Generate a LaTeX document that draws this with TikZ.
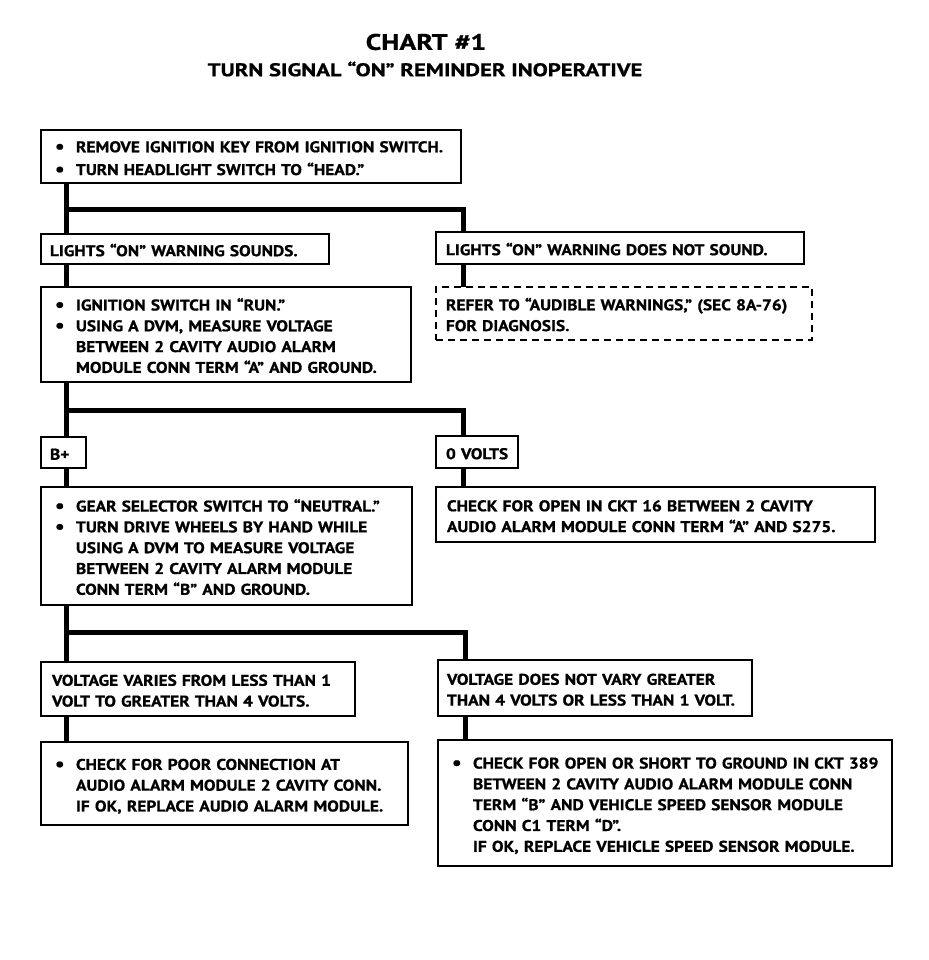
\documentclass[tikz,border=0pt]{standalone}
\usepackage{fontspec}
\setmainfont{PT Sans}
\newfontfamily\bodyfont[FakeStretch=1.12,FakeBold=0.8]{PT Sans Bold}
\newfontfamily\titlefont[FakeStretch=1.24,FakeBold=0.8]{PT Sans Bold}
\newcommand{\Tx}[1]{\raisebox{-3pt}[\height][\depth]{\begin{tabular}{@{}l@{}}#1\end{tabular}}}
\begin{document}
\begin{tikzpicture}[x=1pt,y=-1pt,
  bx/.style={draw, line width=1.4pt, anchor=north west, align=left, outer sep=0pt, inner ysep=0pt,
    font=\bodyfont\fontsize{15.5}{20.8}\selectfont},
  conn/.style={line width=5pt, line join=miter},
  ttl/.style={font=\titlefont\fontsize{22.5}{24}\selectfont},
  sub/.style={font=\titlefont\fontsize{18.3}{20}\selectfont}]
\useasboundingbox (0,0) rectangle (928,960);
\newcommand{\bul}{\makebox[21pt][l]{\raisebox{-0.5pt}{\fontsize{19}{0}\selectfont\textbullet}}}
\newcommand{\ind}{\hspace*{21pt}}
\node[ttl] (title) at (426,42) {CHART \#1};
\node[sub] (subtitle) at (425,69) {TURN SIGNAL “ON” REMINDER INOPERATIVE};

\node[bx, minimum width=420, minimum height=53, inner xsep=14, text width=392] (b1) at (41,130)
  {\Tx{\bul REMOVE IGNITION KEY FROM IGNITION SWITCH.\\[2pt]\bul TURN HEADLIGHT SWITCH TO “HEAD.”}};
\node[bx, minimum width=288, minimum height=30, inner xsep=9, text width=270] (b2) at (41,234)
  {\Tx{LIGHTS “ON” WARNING SOUNDS.}};
\node[bx, minimum width=368, minimum height=32, inner xsep=10, text width=348] (b3) at (436,232)
  {\Tx{LIGHTS “ON” WARNING DOES NOT SOUND.}};
\node[bx, dashed, dash pattern=on 7pt off 5pt, minimum width=376, minimum height=53, inner xsep=10, text width=356] (b3d) at (436,287)
  {\Tx{REFER TO “AUDIBLE WARNINGS,” (SEC 8A-76)\\FOR DIAGNOSIS.}};
\node[bx, minimum width=370, minimum height=95, inner xsep=14, text width=342] (b4) at (41,287)
  {\Tx{\bul IGNITION SWITCH IN “RUN.”\\\bul USING A DVM, MEASURE VOLTAGE\\\ind BETWEEN 2 CAVITY AUDIO ALARM\\\ind MODULE CONN TERM “A” AND GROUND.}};
\node[bx, minimum width=45, minimum height=31, inner xsep=9, text width=27] (bp) at (41,437) {\Tx{B+}};
\node[bx, minimum width=82, minimum height=32, inner xsep=10, text width=62] (b0) at (436,436) {\Tx{0 VOLTS}};
\node[bx, minimum width=439, minimum height=55, inner xsep=11, text width=417] (bck) at (436,487)
  {\Tx{CHECK FOR OPEN IN CKT 16 BETWEEN 2 CAVITY\\AUDIO ALARM MODULE CONN TERM “A” AND S275.}};
\node[bx, minimum width=371, minimum height=118, inner xsep=14, text width=343] (b5) at (41,487)
  {\Tx{\bul GEAR SELECTOR SWITCH TO “NEUTRAL.”\\\bul TURN DRIVE WHEELS BY HAND WHILE\\\ind USING A DVM TO MEASURE VOLTAGE\\\ind BETWEEN 2 CAVITY ALARM MODULE\\\ind CONN TERM “B” AND GROUND.}};
\node[bx, minimum width=314, minimum height=54, inner xsep=11, text width=292] (b6) at (41,662)
  {\Tx{VOLTAGE VARIES FROM LESS THAN 1\\VOLT TO GREATER THAN 4 VOLTS.}};
\node[bx, minimum width=314, minimum height=56, inner xsep=9, text width=296] (b7) at (438,660)
  {\Tx{VOLTAGE DOES NOT VARY GREATER\\THAN 4 VOLTS OR LESS THAN 1 VOLT.}};
\node[bx, minimum width=367, minimum height=83, inner xsep=14, text width=339] (b8) at (41,742)
  {\Tx{\bul CHECK FOR POOR CONNECTION AT\\\ind AUDIO ALARM MODULE 2 CAVITY CONN.\\\ind IF OK, REPLACE AUDIO ALARM MODULE.}};
\node[bx, minimum width=454, minimum height=126, inner xsep=14, text width=426] (b9) at (438,740)
  {\Tx{\bul CHECK FOR OPEN OR SHORT TO GROUND IN CKT 389\\\ind BETWEEN 2 CAVITY AUDIO ALARM MODULE CONN\\\ind TERM “B” AND VEHICLE SPEED SENSOR MODULE\\\ind CONN C1 TERM “D”.\\\ind IF OK, REPLACE VEHICLE SPEED SENSOR MODULE.}};

\coordinate (j1) at (66,209);  \coordinate (k1) at (463,209);
\coordinate (j2) at (66,410);  \coordinate (k2) at (463,410);
\coordinate (j3) at (66,632);  \coordinate (k3) at (465,632);

\draw[conn] (b1.south -| j1) -- (b2.north -| j1);
\draw[conn] (j1) -- (k1) -- (k1 |- b3.north);
\draw[conn] (b3.south -| k1) -- (b3d.north -| k1);
\draw[conn] (b2.south -| j1) -- (b4.north -| j1);
\draw[conn] (b4.south -| j2) -- (bp.north -| j2);
\draw[conn] (j2) -- (k2) -- (k2 |- b0.north);
\draw[conn] (b0.south -| k2) -- (bck.north -| k2);
\draw[conn] (bp.south -| j2) -- (b5.north -| j2);
\draw[conn] (b5.south -| j3) -- (b6.north -| j3);
\draw[conn] (j3) -- (k3) -- (k3 |- b7.north);
\draw[conn] (b6.south -| j3) -- (b8.north -| j3);
\draw[conn] (b7.south -| k3) -- (b9.north -| k3);
\end{tikzpicture}
\end{document}
